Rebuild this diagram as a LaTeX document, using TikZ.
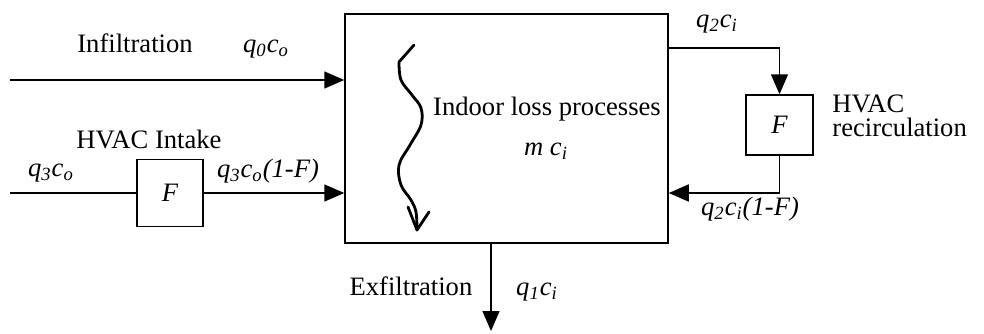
\documentclass[tikz,border=0pt]{standalone}
\usepackage{fontspec}
\setmainfont{Liberation Serif}
\usetikzlibrary{arrows.meta}
\newcommand\lsb[1]{\textsubscript{\textit{#1}}}
\begin{document}
\begin{tikzpicture}[x=0.5pt,y=-0.5pt,
  every node/.style={font=\fontsize{13.3}{15}\selectfont, inner sep=0pt},
  lbl/.style={anchor=base},
  rectbox/.style={draw, line width=0.75pt},
  conn/.style={line width=0.75pt},
  flow/.style={line width=0.75pt, -{Triangle[length=10pt,width=8.5pt]}}]
\useasboundingbox (0,0) rectangle (984,333);
% boxes
\node[rectbox, minimum width=161.5pt, minimum height=114.5pt] (main) at (506.5,128.5) {};
\node[rectbox, minimum width=33pt, minimum height=33.5pt] (fin) at (170,193) {\textit{F}};
\node[rectbox, minimum width=33.5pt, minimum height=30pt] (frec) at (779.5,125) {\textit{F}};
% coordinates
\coordinate (infA) at (10,80);
\coordinate (intA) at (10,193);
\coordinate (r1) at (668,48);
\coordinate (r2) at (779.5,193);
\coordinate (ex) at (491,331);
% connectors
\draw[flow] (infA) -- (infA -| main.west);
\draw[conn] (intA) -- (fin.west);
\draw[flow] (fin.east) -- (fin.east -| main.west);
\draw[flow] (r1) -| (frec.north);
\draw[flow] (frec.south) |- (r2 -| main.east);
\draw[flow] (main.south -| ex) -- (ex);
% squiggle
\draw[line width=1.4pt, line join=round, line cap=round] (414,45) -- (399,62) plot[smooth, tension=0.6] coordinates {(399,62) (401,80) (412,95) (421,108) (421,125) (410,145) (399,165) (401,185) (411,200) (416,212) (417,230)};
\draw[line width=1.4pt, line join=round, line cap=round] (408,207) -- (417,230) -- (429,212);
% labels
\node[lbl] (tinf) at (135,52) {Infiltration};
\node[lbl] (tq0) at (266,52) {\textit{q}\lsb{0}\textit{c}\lsb{o}};
\node[lbl] (tint) at (149,148) {HVAC Intake};
\node[lbl] (tq3) at (51,176) {\textit{q}\lsb{3}\textit{c}\lsb{o}};
\node[lbl] (tq3f) at (268,177) {\textit{q}\lsb{3}\textit{c}\lsb{o}\textit{(1-F)}};
\node[lbl] (tind) at (547,115) {Indoor loss processes};
\node[lbl] (tmc) at (546,155) {\textit{m c}\lsb{i}};
\node[lbl] (tq2) at (717,27) {\textit{q}\lsb{2}\textit{c}\lsb{i}};
\node[anchor=base west] (thv) at (832,112) {HVAC};
\node[anchor=base west] (trec) at (832,136) {recirculation};
\node[lbl] (tq2f) at (750,215) {\textit{q}\lsb{2}\textit{c}\lsb{i}\textit{(1-F)}};
\node[lbl] (texf) at (411,295) {Exfiltration};
\node[lbl] (tq1) at (537,295) {\textit{q}\lsb{1}\textit{c}\lsb{i}};
\end{tikzpicture}
\end{document}
